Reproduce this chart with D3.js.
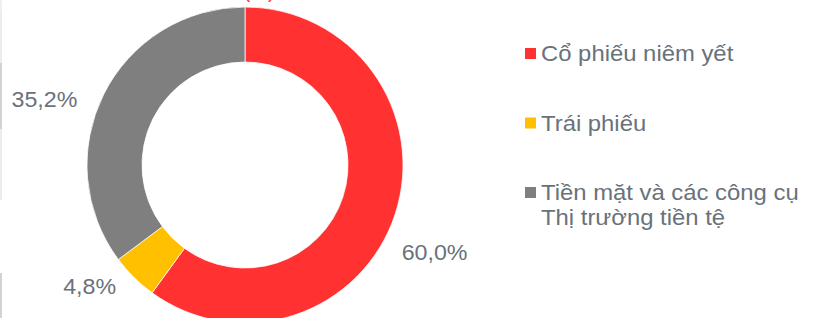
<!DOCTYPE html>
<html>
<head>
<meta charset="utf-8">
<script src="https://cdn.jsdelivr.net/npm/d3@7"></script>
<style>
  body { margin: 0; background: #fff; }
  svg { display: block; font-family: "Liberation Sans", Arial, sans-serif; }
</style>
</head>
<body>
<div id="chart"></div>
<script>
// data
var categories = ["Cổ phiếu niêm yết", "Trái phiếu", "Tiền mặt và các công cụ Thị trường tiền tệ"];
var legendLines = [["Cổ phiếu niêm yết"], ["Trái phiếu"], ["Tiền mặt và các công cụ", "Thị trường tiền tệ"]];
var values = [60.0, 4.8, 35.2];
var valueLabels = ["60,0%", "4,8%", "35,2%"];
var colors = ["#ff3131", "#ffc000", "#7f7f7f"];

var width = 813, height = 318;
var cx = 245, cy = 165;
var textColor = "#69727a";

var svg = d3.select("#chart")
    .append("svg")
    .attr("width", width)
    .attr("height", height);

// faint frame bits on the left edge
var edge = [[0, 10, "#f0f0f0"], [10, 63, "#ececec"], [63, 129, "#d2d2d2"], [129, 200, "#ececec"], [273, 318, "#d2d2d2"]];
svg.selectAll("rect.edge")
    .data(edge)
    .enter()
    .append("rect")
    .attr("class", "edge")
    .attr("x", 0)
    .attr("width", 2)
    .attr("y", d => d[0])
    .attr("height", d => d[1] - d[0])
    .style("fill", d => d[2]);

// title (cut off at top, as in the source)
svg.append("text")
    .attr("x", 259)
    .attr("y", -2)
    .attr("text-anchor", "middle")
    .style("font-size", "20px")
    .style("fill", "#ff3131")
    .text("(%)");

var pie = d3.pie().sort(null).value(d => d);
var arcs = pie(values);

var arc = d3.arc()
    .innerRadius(103)
    .outerRadius(158);

var g = svg.append("g")
    .attr("transform", "translate(" + cx + "," + cy + ")");

g.selectAll("path")
    .data(arcs)
    .enter()
    .append("path")
    .attr("d", arc)
    .style("fill", (d, i) => colors[i])
    .style("stroke", "#fff")
    .style("stroke-width", 0.75);

// data labels, placed around the ring
var labelShift = [0.12, 0.13, -0.15];   // radians
var labelRadius = [209, 197, 211];
g.selectAll("text.val")
    .data(arcs)
    .enter()
    .append("text")
    .attr("class", "val")
    .attr("transform", (d, i) => {
        var a = (d.startAngle + d.endAngle) / 2 + labelShift[i];
        return "translate(" + Math.sin(a) * labelRadius[i] + "," + (-Math.cos(a) * labelRadius[i]) + ") scale(1.08,1)";
    })
    .attr("dy", "0.35em")
    .attr("text-anchor", "middle")
    .style("font-size", "21.5px")
    .style("fill", textColor)
    .text((d, i) => valueLabels[i]);

// legend
var legend = svg.append("g")
    .attr("transform", "translate(525,0)");

var items = legend.selectAll("g.item")
    .data(legendLines)
    .enter()
    .append("g")
    .attr("class", "item")
    .attr("transform", (d, i) => "translate(0," + (61 + i * 69.5) + ")");

items.append("rect")
    .attr("x", 0)
    .attr("y", -13)
    .attr("width", 11)
    .attr("height", 11)
    .style("fill", (d, i) => colors[i]);

items.append("text")
    .attr("transform", "translate(16,0) scale(1.11,1)")
    .style("font-size", "21.5px")
    .style("fill", textColor)
    .selectAll("tspan")
    .data(d => d)
    .enter()
    .append("tspan")
    .attr("x", 0)
    .attr("y", (d, j) => j * 25)
    .text(d => d);
</script>
</body>
</html>
